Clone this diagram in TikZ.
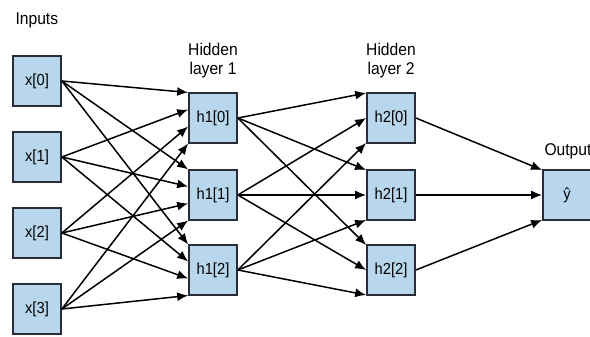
\documentclass[tikz,border=0pt]{standalone}
\usepackage{fontspec}
\setmainfont{Liberation Sans}[FakeStretch=0.92]
\usetikzlibrary{arrows.meta}
\definecolor{unitblue}{RGB}{184,215,236}
\definecolor{unitline}{RGB}{40,45,55}

\begin{document}
\begin{tikzpicture}[x=1pt,y=-1pt,
  unit/.style={draw=unitline, fill=unitblue, line width=1.7pt, minimum width=48pt, minimum height=50pt, inner sep=0pt, font=\fontsize{16}{19}\selectfont},
  link/.style={black, line width=1.5pt, -{Latex[length=11pt,width=9pt]}},
  title/.style={font=\fontsize{17}{20}\selectfont, anchor=base}]
\useasboundingbox (0,0) rectangle (590,337);
% layer titles
\node[title, anchor=base west] (tin) at (12,25) {Inputs};
\node[title] (th1a) at (213,56) {Hidden};
\node[title] (th1b) at (213,75) {layer 1};
\node[title] (th2a) at (391,56) {Hidden};
\node[title] (th2b) at (391,75) {layer 2};
\node[title, anchor=base west] (tout) at (541,156) {Output};
% units
\node[unit] (x0) at (37,81) {x[0]};
\node[unit] (x1) at (37,157) {x[1]};
\node[unit] (x2) at (37,233) {x[2]};
\node[unit] (x3) at (37,309) {x[3]};
\node[unit] (h1-0) at (213,118) {h1[0]};
\node[unit] (h1-1) at (213,195) {h1[1]};
\node[unit] (h1-2) at (213,270) {h1[2]};
\node[unit] (h2-0) at (391,118) {h2[0]};
\node[unit] (h2-1) at (391,195) {h2[1]};
\node[unit] (h2-2) at (391,270) {h2[2]};
\node[unit] (out) at (567,195) {ŷ};
% inputs to hidden layer 1
\draw[link] (x0.east) -- ([yshift=25.5pt]h1-0.west);
\draw[link] (x0.east) -- ([yshift=25.5pt]h1-1.west);
\draw[link] (x0.east) -- ([yshift=25.5pt]h1-2.west);
\draw[link] (x1.east) -- ([yshift=8.5pt]h1-0.west);
\draw[link] (x1.east) -- ([yshift=8.5pt]h1-1.west);
\draw[link] (x1.east) -- ([yshift=8.5pt]h1-2.west);
\draw[link] (x2.east) -- ([yshift=-8.5pt]h1-0.west);
\draw[link] (x2.east) -- ([yshift=-8.5pt]h1-1.west);
\draw[link] (x2.east) -- ([yshift=-8.5pt]h1-2.west);
\draw[link] (x3.east) -- ([yshift=-25.5pt]h1-0.west);
\draw[link] (x3.east) -- ([yshift=-25.5pt]h1-1.west);
\draw[link] (x3.east) -- ([yshift=-25.5pt]h1-2.west);
% hidden layer 1 to hidden layer 2
\draw[link] (h1-0.east) -- ([yshift=25pt]h2-0.west);
\draw[link] (h1-0.east) -- ([yshift=25pt]h2-1.west);
\draw[link] (h1-0.east) -- ([yshift=25pt]h2-2.west);
\draw[link] (h1-1.east) -- (h2-0.west);
\draw[link] (h1-1.east) -- (h2-1.west);
\draw[link] (h1-1.east) -- (h2-2.west);
\draw[link] (h1-2.east) -- ([yshift=-25pt]h2-0.west);
\draw[link] (h1-2.east) -- ([yshift=-25pt]h2-1.west);
\draw[link] (h1-2.east) -- ([yshift=-25pt]h2-2.west);
% hidden layer 2 to output
\draw[link] (h2-0.east) -- ([yshift=25pt]out.west);
\draw[link] (h2-1.east) -- (out.west);
\draw[link] (h2-2.east) -- ([yshift=-25pt]out.west);
\end{tikzpicture}
\end{document}
